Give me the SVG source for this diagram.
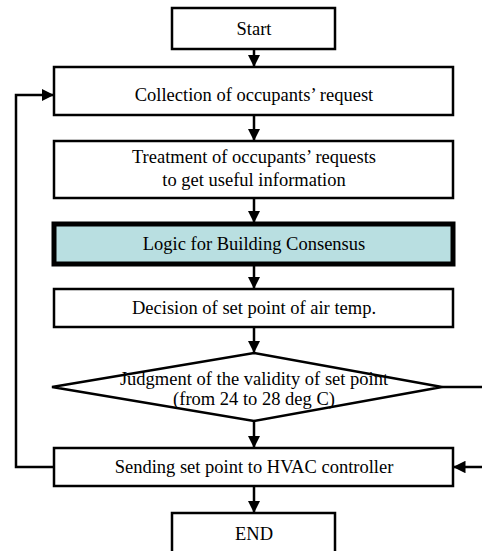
<svg xmlns="http://www.w3.org/2000/svg" width="482" height="551" viewBox="0 0 482 551">
  <defs>
    <marker id="arrow" viewBox="0 0 10 10" refX="10" refY="5" markerWidth="5" markerHeight="5" markerUnits="strokeWidth" orient="auto">
      <path d="M0,0 L10,5 L0,10 Z" fill="#000"/>
    </marker>
    <style>
      .box { fill: #fff; stroke: #000; stroke-width: 2.5; }
      .key { fill: #b9dfe1; stroke: #000; stroke-width: 5; }
      .lbl { font-size: 18.5px; fill: #000; text-anchor: middle; }
      .link { fill: none; stroke: #000; stroke-width: 2.5; marker-end: url(#arrow); }
    </style>
  </defs>
  <rect width="482" height="551" fill="#fff"/>

  <g id="connectors">
    <path class="link" d="M254,49 V67"/>
    <path class="link" d="M254,115 V141"/>
    <path class="link" d="M254,198 V223"/>
    <path class="link" d="M254,264 V289"/>
    <path class="link" d="M254,327 V353"/>
    <path class="link" d="M254,421 V448"/>
    <path class="link" d="M254,486 V513"/>
    <!-- loop back to collection -->
    <path class="link" d="M54,467 H16 V95 H54"/>
    <!-- validity branch straight to sending -->
    <path class="link" d="M442,387 H490 V467 H453"/>
  </g>

  <g font-family="'Liberation Serif', 'Times New Roman', serif">
  <g id="start">
    <rect class="box" x="172" y="8" width="163" height="41"/>
    <text class="lbl" x="254" y="35">Start</text>
  </g>

  <g id="collection">
    <rect class="box" x="54" y="67" width="399" height="48"/>
    <text class="lbl" x="254" y="101">Collection of occupants’ request</text>
  </g>

  <g id="treatment">
    <rect class="box" x="54" y="141" width="399" height="57"/>
    <text class="lbl" x="254" y="163">Treatment of occupants’ requests</text>
    <text class="lbl" x="254" y="186">to get useful information</text>
  </g>

  <g id="consensus">
    <rect class="key" x="54" y="224" width="399" height="40"/>
    <text class="lbl" x="254" y="250">Logic for Building Consensus</text>
  </g>

  <g id="decision">
    <rect class="box" x="54" y="289" width="399" height="38"/>
    <text class="lbl" x="254" y="314">Decision of set point of air temp.</text>
  </g>

  <g id="validity">
    <polygon class="box" points="254,353 442,387 254,421 52,387"/>
    <text class="lbl" x="254" y="385">Judgment of the validity of set point</text>
    <text class="lbl" x="254" y="405">(from 24 to 28 deg C)</text>
  </g>

  <g id="sending">
    <rect class="box" x="54" y="448" width="399" height="38"/>
    <text class="lbl" x="254" y="473">Sending set point to HVAC controller</text>
  </g>

  <g id="end">
    <rect class="box" x="172" y="513" width="163" height="45"/>
    <text class="lbl" x="254" y="540">END</text>
  </g>
  </g>
</svg>
